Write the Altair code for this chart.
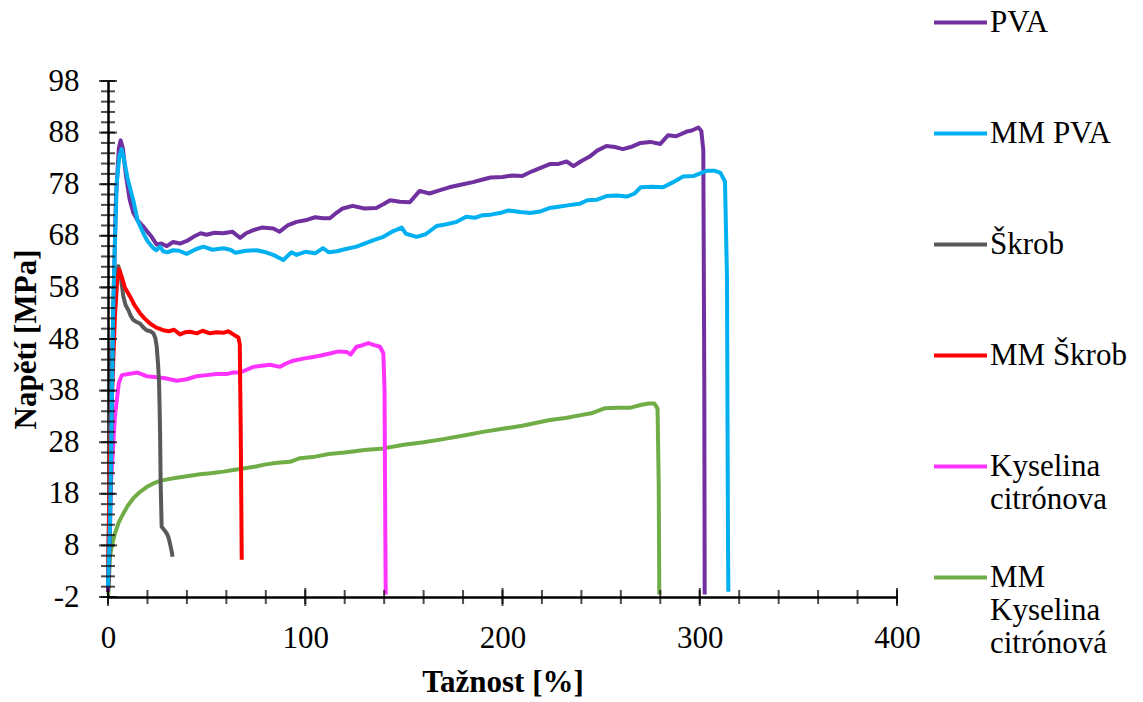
import altair as alt
import pandas as pd

series_names = ["PVA", "MM PVA", "Škrob", "MM Škrob", "Kyselina citrónova", "MM Kyselina citrónová"]
series_colors = ["#7030A0", "#00B0F0", "#595959", "#FF0000", "#FF33FF", "#70AD47"]

pva_x = [0, 1, 2.5, 4, 5.5, 6.4, 7.5, 9, 11, 12.8, 15, 17.9, 20, 22.1, 24.7, 27, 29.8, 33, 36.5, 40, 43.3, 47, 50,
         54, 58.4, 63, 67, 70, 73.7, 78, 83.8, 87, 91, 95.6, 100, 105, 109, 112.5, 116, 119, 124, 130, 136, 140, 143,
         148, 153, 158, 163, 168, 173, 180, 185, 190, 194, 200, 205, 210, 215, 219, 224, 228, 232.5, 236, 240, 244,
         248, 252.7, 257, 261, 265, 270, 275, 280, 284, 288, 293.4, 296, 299.3, 300.8, 301.8, 302.3, 302.5]
pva_y = [-1, 10, 50, 75, 85, 86.5, 85, 80, 75, 72.5, 71, 69.8, 68.8, 67.8, 66.3, 66.5, 66, 66.8, 66.5, 67, 67.8, 68.5,
         68.2, 68.6, 68.5, 68.8, 67.6, 68.5, 69.1, 69.6, 69.4, 68.8, 70, 70.7, 71, 71.6, 71.4, 71.4, 72.5, 73.3, 73.8,
         73.3, 73.4, 74.2, 74.9, 74.6, 74.5, 76.7, 76.2, 76.8, 77.4, 78, 78.4, 78.9, 79.3, 79.4, 79.7, 79.6, 80.5,
         81.1, 81.9, 81.9, 82.4, 81.5, 82.5, 83.3, 84.5, 85.4, 85.2, 84.8, 85.2, 86.0, 86.2, 85.8, 87.5, 87.3, 88.2,
         88.4, 89.0, 88.3, 84.6, 40, -1.5]

mmpva_x = [0, 1, 2.7, 4.4, 5.8, 6.9, 8, 10, 12.8, 15, 17.9, 20, 23, 24.5, 26.4, 28, 30, 33, 36, 39.9, 44, 48.3, 53,
           58.5, 62, 64.6, 70, 75.4, 80, 83.8, 88.9, 93, 95.6, 100, 105, 109, 112, 116, 120, 126, 130, 135, 139.6,
           144, 146.5, 148.9, 151, 156.5, 161, 166.6, 171, 176.8, 181.6, 186, 190, 194, 198.7, 203, 209, 214, 219,
           224, 227.5, 233, 239, 243, 248, 252.7, 258, 263, 267, 270, 276, 281.4, 286, 291.6, 297, 303.5, 307.7,
           310.5, 312.8, 313.8, 314.3, 314.5]
mmpva_y = [0, 12, 55.6, 78.2, 83.5, 84.8, 83, 79, 74.9, 71, 68.5, 67, 65.6, 65.2, 65.9, 65, 64.8, 65.2, 65.1, 64.5,
           65.3, 65.9, 65.3, 65.6, 65.3, 64.7, 65.1, 65.2, 64.8, 64.3, 63.3, 64.8, 64.3, 64.9, 64.6, 65.6, 64.8, 65.0,
           65.4, 65.9, 66.5, 67.2, 67.8, 68.8, 69.2, 69.6, 68.4, 67.8, 68.3, 69.9, 70.2, 70.7, 71.7, 71.5, 72.0, 72.1,
           72.4, 72.9, 72.6, 72.4, 72.7, 73.4, 73.6, 73.9, 74.2, 74.9, 75.0, 75.7, 75.8, 75.6, 76.2, 77.4, 77.5, 77.4,
           78.3, 79.5, 79.6, 80.6, 80.6, 80.2, 78.5, 60, 10, -1]

skrob_x = [0, 1, 3, 4.3, 5.2, 6.5, 7.8, 9, 10.3, 11.5, 12.8, 14.5, 16.2, 18, 19.6, 21.5, 23, 24, 24.7, 25.4, 25.9,
           26.2, 26.4, 26.7, 27.2, 28.5, 29.8, 30.7, 31.4, 32.2, 32.7]
skrob_y = [-1, 30, 55, 61, 62.1, 60, 56.2, 54.5, 53.6, 52.5, 51.7, 51.3, 51, 50.2, 49.7, 49.5, 49.1, 48.2, 46.5, 43,
           39.4, 34, 29.7, 20, 11.6, 11, 10.3, 9.5, 8.4, 7, 5.8]

mmskrob_x = [0, 1, 2.3, 3.5, 4.6, 5.7, 7, 8.5, 10, 11.2, 13.5, 16.2, 18.5, 21.3, 24.5, 28, 31, 33.5, 36.5, 39, 41.6,
             45, 48, 51.7, 55, 58.5, 61, 63.5, 66.1, 66.8, 67.3, 67.8]
mmskrob_y = [-1, 26, 40, 52.3, 59, 61.5, 60, 58, 57, 56.2, 54.5, 53, 52, 51, 50.2, 49.7, 49.5, 49.8, 48.9, 49.3, 49.4,
             49.1, 49.6, 49.1, 49.3, 49.2, 49.5, 48.9, 48.3, 47, 30, 5.2]

kc_x = [0, 0.3, 1.5, 3.5, 5.5, 7, 10.3, 15, 19.6, 24.7, 29, 34.8, 40, 44.9, 50, 55, 60, 63.5, 67, 70, 73.7, 78, 82.1,
        87.2, 90, 93.9, 99, 104, 108, 112.5, 117, 121, 123, 126, 129, 132, 135, 137.9, 139.6, 140.2, 140.6, 140.8]
kc_y = [-1, 7, 20, 33, 39.5, 41, 41.2, 41.5, 40.8, 40.6, 40.4, 39.9, 40.2, 40.8, 41, 41.2, 41.2, 41.5, 41.5, 42, 42.6,
        42.8, 43, 42.6, 43.2, 43.8, 44.2, 44.5, 44.8, 45.2, 45.6, 45.5, 45.0, 46.5, 46.8, 47.2, 46.8, 46.5, 45.2, 38,
        10, -1.5]

mmkc_x = [0, 0.2, 1, 2, 3.5, 5.5, 7.8, 10, 12.8, 16, 19.6, 23, 26.4, 30, 34.8, 40, 46.6, 52, 58.5, 63.5, 68.6, 75, 80,
          86, 92.3, 97.3, 105, 112, 120, 130, 139.6, 150, 160, 170, 181.8, 190, 200, 210, 224, 232, 239, 245, 252,
          258, 265, 270, 274, 277, 278.6, 279.2, 279.5]
mmkc_y = [-1.5, -1.3, 5.8, 8, 10.3, 12.5, 14.2, 15.7, 17.1, 18.3, 19.3, 20, 20.5, 20.8, 21.1, 21.4, 21.8, 22.0, 22.3,
          22.6, 22.9, 23.3, 23.7, 24.0, 24.2, 24.9, 25.2, 25.7, 26.0, 26.5, 26.8, 27.5, 28.0, 28.6, 29.4, 30.0, 30.6,
          31.2, 32.3, 32.7, 33.2, 33.6, 34.6, 34.7, 34.7, 35.2, 35.5, 35.5, 34.5, 20, -1.5]

x_axis_values = [0, 100, 200, 300, 400]
y_axis_values = [-2, 8, 18, 28, 38, 48, 58, 68, 78, 88, 98]
x_minor_values = list(range(0, 401, 20))
y_minor_values = list(range(-2, 99, 2))

# draw order (bottom -> top)
draw = [
    ("MM Kyselina citrónová", mmkc_x, mmkc_y),
    ("Kyselina citrónova", kc_x, kc_y),
    ("Škrob", skrob_x, skrob_y),
    ("MM Škrob", mmskrob_x, mmskrob_y),
    ("PVA", pva_x, pva_y),
    ("MM PVA", mmpva_x, mmpva_y),
]
rows = []
for name, xs, ys in draw:
    for i, (a, b) in enumerate(zip(xs, ys)):
        rows.append({"series": name, "strain": a, "stress": b, "idx": i})
df = pd.DataFrame(rows)

FONT = "Liberation Serif"
xscale = alt.Scale(domain=[0, 400], nice=False, zero=False)
yscale = alt.Scale(domain=[-2, 98], nice=False, zero=False)
xaxis = alt.Axis(values=x_axis_values, title="Tažnost [%]", labelPadding=26, titlePadding=14, labelFlush=False)
yaxis = alt.Axis(values=y_axis_values, title="Napětí [MPa]", labelPadding=29, titlePadding=6, labelFlush=False,
                 labelExpr="'' + datum.value")

label_expr = ("datum.label == 'Kyselina citrónova' ? ['Kyselina', 'citrónova'] : "
              "datum.label == 'MM Kyselina citrónová' ? ['MM', 'Kyselina', 'citrónová'] : datum.label")

lines = alt.Chart(df).mark_line(strokeWidth=4, strokeJoin="round").encode(
    x=alt.X("strain:Q", scale=xscale, axis=xaxis),
    y=alt.Y("stress:Q", scale=yscale, axis=yaxis),
    color=alt.Color("series:N",
                    scale=alt.Scale(domain=series_names, range=series_colors),
                    legend=alt.Legend(orient="none", legendX=824, legendY=-87, title=None,
                                      symbolType="stroke", symbolSize=2809, symbolStrokeWidth=4,
                                      labelFont=FONT, labelFontSize=31, labelColor="black",
                                      labelLimit=400, labelOffset=1, rowPadding=0, gridAlign="all",
                                      padding=0, labelExpr=label_expr)),
    order=alt.Order("idx:Q"),
)

ydf_major = pd.DataFrame({"v": y_axis_values})
ydf_minor = pd.DataFrame({"v": y_minor_values})
xdf_major = pd.DataFrame({"v": x_axis_values})
xdf_minor = pd.DataFrame({"v": x_minor_values})

def ytick(d, size):
    return alt.Chart(d).mark_tick(orient="horizontal", color="black", thickness=2, size=size).encode(
        x=alt.XDatum(0, scale=xscale, axis=xaxis),
        y=alt.Y("v:Q", scale=yscale, axis=yaxis),
    )

def xtick(d, size):
    return alt.Chart(d).mark_tick(orient="vertical", color="black", thickness=2, size=size).encode(
        x=alt.X("v:Q", scale=xscale, axis=xaxis),
        y=alt.YDatum(-2, scale=yscale, axis=yaxis),
    )

chart = alt.layer(
    lines, ytick(ydf_minor, 14), ytick(ydf_major, 18), xtick(xdf_minor, 14), xtick(xdf_major, 18)
).properties(
    width=789, height=516,
    padding={"left": 108, "top": 81, "right": 246, "bottom": 105},
    autosize=alt.AutoSizeParams(type="none"),
).configure(
    background="white",
    style={"guide-label": {"lineHeight": 33.4}},
).configure_view(strokeWidth=0).configure_axis(
    domainColor="black", domainWidth=2.5, ticks=False, tickSize=0, grid=False,
    labelFont=FONT, labelFontSize=31, labelColor="black",
    titleFont=FONT, titleFontSize=31, titleFontWeight="bold", titleColor="black",
)

chart.save("out.html", embed_options={"renderer": "svg", "actions": False})
